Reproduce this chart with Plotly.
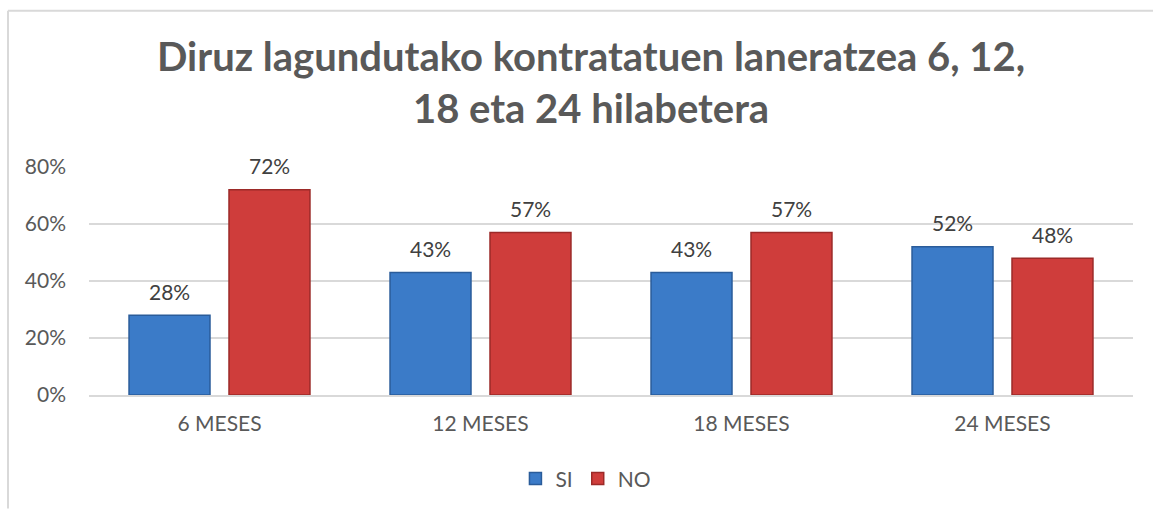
import plotly.graph_objects as go

categories = ["6 MESES", "12 MESES", "18 MESES", "24 MESES"]
si_values = [0.28, 0.43, 0.43, 0.52]
no_values = [0.72, 0.57, 0.57, 0.48]
series_names = ["SI", "NO"]
y_ticks = [0, 0.2, 0.4, 0.6, 0.8]
title_text = "Diruz lagundutako kontratatuen laneratzea 6, 12,<br>18 eta 24 hilabetera"

FONT = "Lato, Open Sans, sans-serif"
GRAY = "#595959"
BARGAP = 0.234
BARGROUPGAP = 0.19

fig = go.Figure()
fig.add_trace(go.Bar(
    x=categories, y=si_values, name=series_names[0],
    marker=dict(color="#3b7bc8", line=dict(color="#2a5c9a", width=1.5)),
))
fig.add_trace(go.Bar(
    x=categories, y=no_values, name=series_names[1],
    marker=dict(color="#cf3d3b", line=dict(color="#9c2a28", width=1.5)),
))

# data labels, placed above each bar of the group
slot = (1 - BARGAP) / 2
for k, vals in enumerate([si_values, no_values]):
    shift = (k - 0.5) * slot
    for i, v in enumerate(vals):
        fig.add_annotation(
            x=i + shift, y=v, xref="x", yref="y",
            text=f"{v:.0%}", showarrow=False,
            yanchor="middle", yshift=24,
            font=dict(family=FONT, size=21, color="#404040"),
        )

fig.update_layout(
    width=1153, height=510,
    paper_bgcolor="white", plot_bgcolor="white",
    margin=dict(l=89, r=20, t=167, b=114),
    barmode="group", bargap=BARGAP, bargroupgap=BARGROUPGAP,
    title=dict(
        text=f"<b>{title_text}</b>",
        x=0.5126, xanchor="center", y=0.861, yanchor="middle",
        font=dict(family=FONT, size=40, color=GRAY),
    ),
    font=dict(family=FONT, color=GRAY),
    legend=dict(
        orientation="h", x=0.476, xanchor="center", y=-0.362, yanchor="middle",
        font=dict(family=FONT, size=21, color=GRAY),
        itemwidth=30, traceorder="normal",
    ),
    xaxis=dict(
        showgrid=False, showline=True, linecolor="#d9d9d9", linewidth=1.5,
        tickfont=dict(family=FONT, size=21, color=GRAY),
        ticks="outside", ticklen=9, tickcolor="rgba(0,0,0,0)",
    ),
    yaxis=dict(
        range=[0, 0.8], tickvals=y_ticks, tickformat=".0%",
        showgrid=True, gridcolor="#d9d9d9", gridwidth=1.5,
        zeroline=False, showline=False,
        tickfont=dict(family=FONT, size=21, color=GRAY),
        ticklabelstandoff=22,
    ),
)

# chart area outline (top and left edges visible in the reference)
fig.add_shape(type="line", xref="paper", yref="paper",
              x0=(8 - 89) / 1044, x1=(1153 - 89) / 1044,
              y0=(396 - 10) / 229, y1=(396 - 10) / 229,
              line=dict(color="#d9d9d9", width=2))
fig.add_shape(type="line", xref="paper", yref="paper",
              x0=(8 - 89) / 1044, x1=(8 - 89) / 1044,
              y0=(396 - 10) / 229, y1=(396 - 510) / 229,
              line=dict(color="#d9d9d9", width=2))

fig.write_html("out.html", config={"displayModeBar": False},
               post_script="document.body.style.margin='0px';")
